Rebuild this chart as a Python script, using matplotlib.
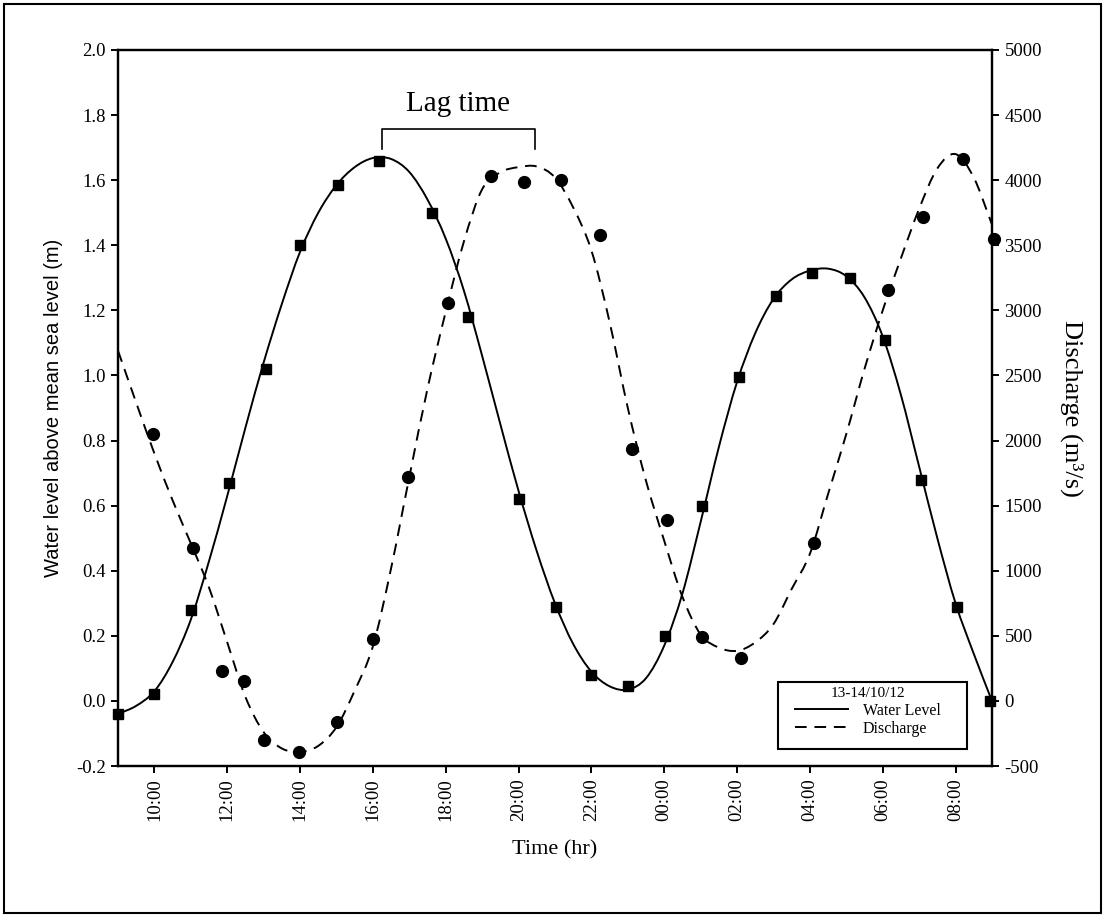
import numpy as np
import matplotlib
matplotlib.use("Agg")
import matplotlib.pyplot as plt
from matplotlib.lines import Line2D
from matplotlib.patches import Rectangle, PathPatch
from matplotlib.path import Path

plt.rcParams['font.family'] = ['Liberation Serif', 'DejaVu Serif']
plt.rcParams['axes.unicode_minus'] = False

# ---- data (hours since midnight of 13/10/12) ----
wl_time = [9.0, 10.0, 11.0, 12.05, 13.06, 14.0, 15.05, 16.17, 17.62, 18.6, 20.0, 21.03,
           22.0, 23.0, 24.02, 25.03, 26.05, 27.07, 28.05, 29.1, 30.06, 31.05, 32.03, 32.94]
wl_val = [-0.04, 0.02, 0.28, 0.67, 1.02, 1.40, 1.585, 1.66, 1.50, 1.18, 0.62, 0.29,
          0.08, 0.045, 0.20, 0.60, 0.995, 1.245, 1.315, 1.30, 1.11, 0.68, 0.29, 0.0]

q_time = [9.96, 11.06, 11.85, 12.46, 13.0, 13.97, 15.0, 16.0, 16.96, 18.06, 19.24, 20.15,
          21.16, 22.23, 23.11, 24.07, 25.05, 26.1, 28.1, 30.14, 31.1, 32.2, 33.05]
q_val = [2050, 1175, 231, 154, -300, -392, -162, 477, 1720, 3060, 4030, 3985,
         4000, 3577, 1938, 1392, 492, 330, 1215, 3160, 3715, 4162, 3546]

# fitted curves, read every 30 min from 09:00 to 09:00 next day
fit_time = np.arange(9.0, 33.01, 0.5)
wl_fit = [-0.04, -0.015, 0.03, 0.12, 0.25, 0.43, 0.63, 0.84, 1.04, 1.22, 1.38, 1.50,
          1.585, 1.64, 1.668, 1.665, 1.625, 1.54, 1.42, 1.26, 1.06, 0.85, 0.645, 0.46,
          0.30, 0.175, 0.09, 0.045, 0.035, 0.07, 0.17, 0.33, 0.55, 0.78, 0.98, 1.13,
          1.235, 1.295, 1.322, 1.328, 1.305, 1.24, 1.12, 0.94, 0.72, 0.50, 0.30, 0.145, 0.0]
q_fit = [2690, 2290, 1900, 1540, 1210, 870, 450, 30, -240, -365, -392, -345,
         -200, 80, 420, 1020, 1720, 2400, 2990, 3530, 3930, 4060, 4100, 4105,
         4020, 3790, 3460, 2910, 2250, 1690, 1230, 800, 510, 410, 385, 450,
         590, 860, 1130, 1590, 2050, 2550, 3000, 3400, 3780, 4090, 4200, 4020, 3660]

x_ticks = [10, 12, 14, 16, 18, 20, 22, 24, 26, 28, 30, 32]
x_labels = ["10:00", "12:00", "14:00", "16:00", "18:00", "20:00", "22:00",
            "00:00", "02:00", "04:00", "06:00", "08:00"]
wl_ticks = [-0.2, 0.0, 0.2, 0.4, 0.6, 0.8, 1.0, 1.2, 1.4, 1.6, 1.8, 2.0]
q_ticks = [-500, 0, 500, 1000, 1500, 2000, 2500, 3000, 3500, 4000, 4500, 5000]

lag_start, lag_end = 16.25, 20.45
lag_low, lag_high = 1.695, 1.757
legend_title = "13-14/10/12"
legend_labels = ["Water Level", "Discharge"]


def smooth_path(x, y):
    """Cubic Bezier path passing through the read curve values (Catmull-Rom tangents)."""
    p = np.column_stack([x, y]).astype(float)
    ext = np.vstack([2 * p[0] - p[1], p, 2 * p[-1] - p[-2]])
    verts = [p[0]]
    codes = [Path.MOVETO]
    for i in range(1, len(ext) - 2):
        p0, p1, p2, p3 = ext[i - 1], ext[i], ext[i + 1], ext[i + 2]
        verts += [p1 + (p2 - p0) / 6.0, p2 - (p3 - p1) / 6.0, p2]
        codes += [Path.CURVE4] * 3
    return Path(verts, codes)


# ---- figure ----
fig = plt.figure(figsize=(11.05, 9.15), dpi=100)
ax = fig.add_axes([0.1068, 0.1628, 0.7909, 0.7826])
ax2 = ax.twinx()

ax.add_patch(PathPatch(smooth_path(fit_time, wl_fit), fill=False, edgecolor='black',
                       lw=1.4, transform=ax.transData))
ax.plot(wl_time, wl_val, ls='none', marker='s', ms=7, color='black', clip_on=False)
ax2.add_patch(PathPatch(smooth_path(fit_time, q_fit), fill=False, edgecolor='black',
                        lw=1.4, linestyle=(0, (6, 4)), transform=ax2.transData))
ax2.plot(q_time, q_val, ls='none', marker='o', ms=8.5, color='black', clip_on=False)

ax.set_xlim(9, 33)
ax.set_ylim(-0.2, 2.0)
ax2.set_ylim(-500, 5000)

ax.set_xticks(x_ticks)
ax.set_xticklabels(x_labels, rotation=90, fontsize=13.5)
ax.set_yticks(wl_ticks)
ax.set_yticklabels(["%.1f" % v for v in wl_ticks], fontsize=13.5)
ax2.set_yticks(q_ticks)
ax2.set_yticklabels([str(v) for v in q_ticks], fontsize=13.5)

for a in (ax, ax2):
    for s in a.spines.values():
        s.set_linewidth(1.6)
    a.tick_params(direction='out', length=5, width=1.4, pad=4)

ax.set_ylabel("Water level above mean sea level (m)", family=['Liberation Sans', 'DejaVu Sans'],
              fontsize=14.5, labelpad=9)
ax2.set_ylabel("Discharge (m\u00b3/s)", fontsize=19, rotation=270, labelpad=30)
ax.set_xlabel("Time (hr)", fontsize=16, labelpad=14)

# lag time bracket
ax.plot([lag_start, lag_start, lag_end, lag_end], [lag_low, lag_high, lag_high, lag_low],
        color='black', lw=1.2)
ax.text((lag_start + lag_end) / 2, 1.835, "Lag time", ha='center', va='center', fontsize=21)

# legend (frame drawn separately so that its padding matches the original box)
handles = [Line2D([], [], color='black', lw=1.4),
           Line2D([], [], color='black', lw=1.4, linestyle=(0, (6, 4)))]
leg = ax2.legend(handles, legend_labels, title=legend_title,
                 loc='upper left', bbox_to_anchor=(0.7746, 0.110), fontsize=11.5,
                 title_fontsize=11, frameon=False, handlelength=3.3,
                 handletextpad=0.95, borderpad=0, labelspacing=0.15, borderaxespad=0)
ax2.add_patch(Rectangle((0.755, 0.0237), 0.216, 0.0933, transform=ax2.transAxes,
                        fill=False, edgecolor='black', lw=1.5, zorder=5))

fig.patches.append(Rectangle((0.004, 0.002), 0.992, 0.994, transform=fig.transFigure,
                             fill=False, edgecolor='black', lw=1.5))

fig.savefig("out.png", dpi=100)
